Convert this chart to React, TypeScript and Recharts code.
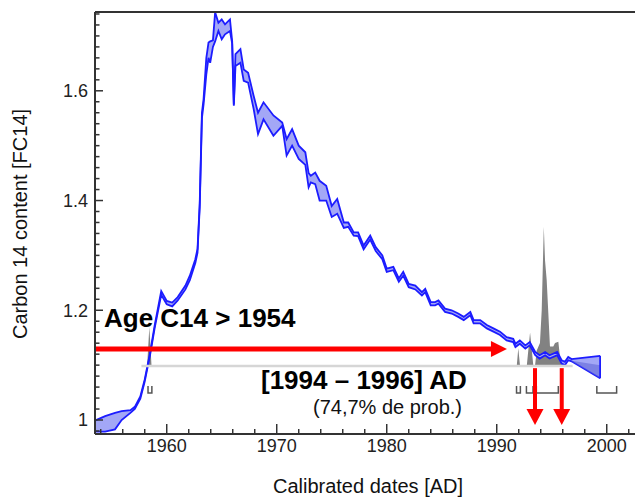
import React from 'react';
import { ComposedChart, Area, Line, XAxis, YAxis, ReferenceLine } from 'recharts';

// calibration curve (bomb pulse), FC14 band
const years = [
  1953.48, 1954.4, 1955.3, 1955.9, 1956.7, 1957.1, 1957.6, 1958.0, 1958.5, 1958.9,
  1959.5, 1960.0, 1960.5, 1961.0, 1961.7, 1962.1, 1962.6, 1962.8, 1963.0, 1963.2,
  1963.35, 1963.6, 1963.8, 1963.95, 1964.2, 1964.4, 1964.7, 1965.0, 1965.3, 1965.75,
  1965.95, 1966.1, 1966.25, 1966.7, 1967.0, 1967.4, 1967.9, 1968.3, 1968.8, 1969.7,
  1970.5, 1970.9, 1971.4, 1972.0, 1972.6, 1972.9, 1973.1, 1973.5, 1973.9, 1974.5,
  1975.0, 1975.5, 1976.1, 1976.5, 1977.0, 1977.4, 1977.9, 1978.5, 1979.0, 1979.6,
  1980.0, 1980.6, 1981.1, 1981.5, 1982.0, 1982.6, 1983.2, 1983.5, 1984.0, 1984.4,
  1984.7, 1985.3, 1985.9, 1986.5, 1987.0, 1987.6, 1987.9, 1988.5, 1989.1, 1989.7,
  1990.3, 1990.9, 1991.5, 1991.7, 1992.1, 1992.6, 1993.0, 1993.5, 1993.9, 1994.4,
  1994.8, 1995.5, 1995.9, 1996.2, 1996.5, 1996.8, 1999.4,
];
const upperFC = [
  0.999, 1.007, 1.013, 1.016, 1.018, 1.024, 1.043, 1.074, 1.124, 1.172,
  1.235, 1.217, 1.214, 1.224, 1.245, 1.263, 1.293, 1.312, 1.395, 1.56,
  1.585, 1.66, 1.688, 1.69, 1.692, 1.743, 1.724, 1.73, 1.721, 1.73,
  1.69, 1.575, 1.667, 1.676, 1.639, 1.633, 1.591, 1.56, 1.579, 1.555,
  1.542, 1.512, 1.53, 1.5, 1.488, 1.45, 1.445, 1.451, 1.436, 1.427,
  1.39, 1.403, 1.36, 1.36, 1.342, 1.342, 1.318, 1.336, 1.315, 1.3,
  1.276, 1.279, 1.258, 1.27, 1.248, 1.245, 1.233, 1.239, 1.215, 1.215,
  1.218, 1.203, 1.2, 1.194, 1.188, 1.197, 1.182, 1.182, 1.173, 1.167,
  1.161, 1.151, 1.148, 1.139, 1.145, 1.136, 1.142, 1.124, 1.118, 1.124,
  1.118, 1.124, 1.109, 1.106, 1.115, 1.111, 1.117,
];
const lowerFC = [
  0.979, 0.979, 0.983, 1.0, 1.013, 1.02, 1.039, 1.07, 1.12, 1.167,
  1.228, 1.211, 1.207, 1.218, 1.238, 1.255, 1.286, 1.305, 1.388, 1.55,
  1.575, 1.63, 1.66, 1.651, 1.68, 1.69, 1.709, 1.694, 1.703, 1.709,
  1.686, 1.573, 1.645, 1.651, 1.618, 1.615, 1.567, 1.521, 1.548, 1.518,
  1.536, 1.482, 1.5, 1.476, 1.465, 1.424, 1.433, 1.43, 1.4, 1.4,
  1.37, 1.376, 1.35, 1.352, 1.336, 1.335, 1.311, 1.329, 1.308, 1.293,
  1.27, 1.273, 1.252, 1.263, 1.242, 1.238, 1.227, 1.233, 1.209, 1.209,
  1.212, 1.197, 1.194, 1.188, 1.182, 1.191, 1.176, 1.176, 1.167, 1.161,
  1.155, 1.145, 1.142, 1.133, 1.139, 1.13, 1.136, 1.118, 1.112, 1.118,
  1.112, 1.118, 1.103, 1.1, 1.109, 1.107, 1.076,
];

// darker inner part of the extrapolated tail
const tailYears = [1996.8, 1999.4];
const tailMid = [1.108, 1.1];
const tailLow = [1.107, 1.076];

// calibrated probability distribution (relative density)
const probYears = [
  1957.7, 1958.22, 1958.42, 1958.62, 1991.6, 1991.82, 1991.96, 1992.12, 1992.73, 1993.03,
  1993.33, 1993.48, 1993.63, 1993.93, 1994.09, 1994.28, 1994.39, 1994.54, 1994.69, 1994.84,
  1995.14, 1995.3, 1995.6, 1995.75, 1996.05, 1996.9,
];
const probDensity = [
  0, 0, 0.28, 0, 0, 0, 0.127, 0, 0, 0.24,
  0, 0, 0.11, 0.165, 0.4, 1.0, 0.76, 0.62, 0.38, 0.14,
  0.14, 0.165, 0.175, 0.067, 0, 0,
];
const probSpan = [1957.7, 1996.9];

// highest-density ranges drawn under the distribution
const hpdStart = [1958.3, 1991.8, 1992.7, 1993.6, 1999.1];
const hpdEnd = [1958.65, 1992.15, 1993.3, 1995.6, 2000.9];
const hpdLevel = -0.194;

const measuredFC = 1.1296;
const arrowTipYear = 1990.93;
const resultYears = [1993.48, 1995.91];
const resultFrom = 1.0945;
const resultTo = 0.991;

const xDomain = [1953.48, 2002.57];
const yDomain = [0.9745, 1.7436];
const probDomain = [-0.488, 2.542];

const xTicks = [
  1954, 1956, 1958, 1960, 1962, 1964, 1966, 1968, 1970, 1972, 1974, 1976, 1978,
  1980, 1982, 1984, 1986, 1988, 1990, 1992, 1994, 1996, 1998, 2000, 2002,
];
const xMajor = [1960, 1970, 1980, 1990, 2000];
const yTicks = [
  0.98, 1.0, 1.02, 1.04, 1.06, 1.08, 1.1, 1.12, 1.14, 1.16, 1.18, 1.2, 1.22,
  1.24, 1.26, 1.28, 1.3, 1.32, 1.34, 1.36, 1.38, 1.4, 1.42, 1.44, 1.46, 1.48,
  1.5, 1.52, 1.54, 1.56, 1.58, 1.6, 1.62, 1.64, 1.66, 1.68, 1.7, 1.72, 1.74,
];
const yMajor = [1, 1.2, 1.4, 1.6];

const bandData = years.map((x, i) => ({ x, band: [lowerFC[i], upperFC[i]] }));
const tailData = tailYears.map((x, i) => ({ x, band: [tailLow[i], tailMid[i]] }));
const probData = probYears.map((x, i) => ({ x, p: probDensity[i] }));
const baseData = probSpan.map((x) => ({ x, p: 0 }));

const FONT = '"Liberation Sans", Arial, sans-serif';
const AXIS = '#333';
const BLUE = '#1c1cff';
const RED = '#ff0000';

const isMajor = (list: number[], v: number) => list.some((m) => Math.abs(m - v) < 1e-6);

const XTick = (props: any) => {
  const { x, y, payload } = props;
  const major = isMajor(xMajor, payload.value);
  return (
    <g>
      <line x1={x} y1={y} x2={x} y2={y - (major ? 10 : 5)} stroke={AXIS} strokeWidth={1.5} />
      {major && (
        <text x={x} y={y + 18} textAnchor="middle" fontSize={18} fill="#222" fontFamily={FONT}>
          {payload.value}
        </text>
      )}
    </g>
  );
};

const YTick = (props: any) => {
  const { x, y, payload } = props;
  const major = isMajor(yMajor, payload.value);
  return (
    <g>
      <line x1={x} y1={y} x2={x + (major ? 8 : 4.5)} y2={y} stroke={AXIS} strokeWidth={1.5} />
      {major && (
        <text x={x - 7} y={y} dy="0.36em" textAnchor="end" fontSize={18} fill="#222" fontFamily={FONT}>
          {String(payload.value)}
        </text>
      )}
    </g>
  );
};

// shaft plus a filled head at the far end of the segment
const arrow = (width: number, headLen: number, headHalf: number) => (props: any) => {
  const { x1, y1, x2, y2 } = props;
  const dx = x2 - x1;
  const dy = y2 - y1;
  const len = Math.hypot(dx, dy) || 1;
  const ux = dx / len;
  const uy = dy / len;
  const bx = x2 - ux * headLen;
  const by = y2 - uy * headLen;
  const pts = `${bx - uy * headHalf},${by + ux * headHalf} ${x2},${y2} ${bx + uy * headHalf},${by - ux * headHalf}`;
  return (
    <g>
      <line x1={x1} y1={y1} x2={bx + ux} y2={by + uy} stroke={RED} strokeWidth={width} />
      <polygon points={pts} fill={RED} />
    </g>
  );
};

const bracket = (props: any) => {
  const { x1, y1, x2, y2 } = props;
  return (
    <path
      d={`M${x1},${y1 - 7} L${x1},${y1} L${x2},${y2} L${x2},${y2 - 7}`}
      fill="none"
      stroke="#555"
      strokeWidth={1.5}
    />
  );
};

export default function App() {
  const last = years.length - 1;
  return (
    <div style={{ position: 'absolute', left: 0, top: 0, width: 635, height: 498, background: '#fff' }}>
      <ComposedChart width={635} height={498} margin={{ top: 12, right: 0, bottom: 0, left: 0 }}>
        <XAxis
          dataKey="x"
          type="number"
          domain={xDomain}
          allowDataOverflow
          ticks={xTicks}
          interval={0}
          tick={<XTick />}
          tickLine={false}
          tickSize={0}
          tickMargin={0}
          height={64}
          axisLine={{ stroke: AXIS, strokeWidth: 2 }}
        />
        <YAxis
          yAxisId="fc"
          type="number"
          domain={yDomain}
          allowDataOverflow
          ticks={yTicks}
          interval={0}
          tick={<YTick />}
          tickLine={false}
          tickSize={0}
          tickMargin={0}
          width={95}
          axisLine={{ stroke: AXIS, strokeWidth: 2 }}
        />
        <YAxis yAxisId="prob" type="number" domain={probDomain} allowDataOverflow hide />

        <Line
          data={baseData}
          yAxisId="prob"
          dataKey="p"
          type="linear"
          stroke="#d6d6d6"
          strokeWidth={2.5}
          dot={false}
          activeDot={false}
          isAnimationActive={false}
        />
        <Area
          data={probData}
          yAxisId="prob"
          dataKey="p"
          type="linear"
          baseValue={0}
          stroke="none"
          fill="#828282"
          fillOpacity={1}
          dot={false}
          activeDot={false}
          isAnimationActive={false}
        />
        <Area
          data={bandData}
          yAxisId="fc"
          dataKey="band"
          type="linear"
          stroke={BLUE}
          strokeWidth={1.8}
          fill="#a3a7f6"
          fillOpacity={1}
          dot={false}
          activeDot={false}
          isAnimationActive={false}
        />
        <Area
          data={tailData}
          yAxisId="fc"
          dataKey="band"
          type="linear"
          stroke="none"
          fill="#5c62d6"
          fillOpacity={0.55}
          dot={false}
          activeDot={false}
          isAnimationActive={false}
        />
        <ReferenceLine
          yAxisId="fc"
          segment={[
            { x: years[last], y: lowerFC[last] },
            { x: years[last], y: upperFC[last] },
          ]}
          stroke={BLUE}
          strokeWidth={1.8}
        />
        <ReferenceLine yAxisId="fc" y={yDomain[1]} stroke={AXIS} strokeWidth={2} />

        {hpdStart.map((a, i) => (
          <ReferenceLine
            key={`hpd-${i}`}
            yAxisId="prob"
            segment={[
              { x: a, y: hpdLevel },
              { x: hpdEnd[i], y: hpdLevel },
            ]}
            ifOverflow="visible"
            shape={bracket}
          />
        ))}

        <ReferenceLine
          yAxisId="fc"
          segment={[
            { x: xDomain[0], y: measuredFC },
            { x: arrowTipYear, y: measuredFC },
          ]}
          shape={arrow(5, 16, 8)}
        />
        {resultYears.map((yr, i) => (
          <ReferenceLine
            key={`res-${i}`}
            yAxisId="fc"
            segment={[
              { x: yr, y: resultFrom },
              { x: yr, y: resultTo },
            ]}
            shape={arrow(4, 16, 8.5)}
          />
        ))}
      </ComposedChart>

      <svg
        width={635}
        height={498}
        style={{ position: 'absolute', left: 0, top: 0, pointerEvents: 'none' }}
        fontFamily={FONT}
      >
        <text x={104} y={327} fontSize={26} fontWeight="bold" fill="#000">
          Age C14 &gt; 1954
        </text>
        <text x={261} y={389} fontSize={26} fontWeight="bold" fill="#000">
          [1994 – 1996] AD
        </text>
        <text x={313} y={414} fontSize={20} fill="#111">
          (74,7% de prob.)
        </text>
        <text x={368} y={493} fontSize={20} textAnchor="middle" fill="#111">
          Calibrated dates [AD]
        </text>
        <text x={27} y={224} fontSize={20} textAnchor="middle" fill="#111" transform="rotate(-90 27 224)">
          Carbon 14 content [FC14]
        </text>
      </svg>
    </div>
  );
}
